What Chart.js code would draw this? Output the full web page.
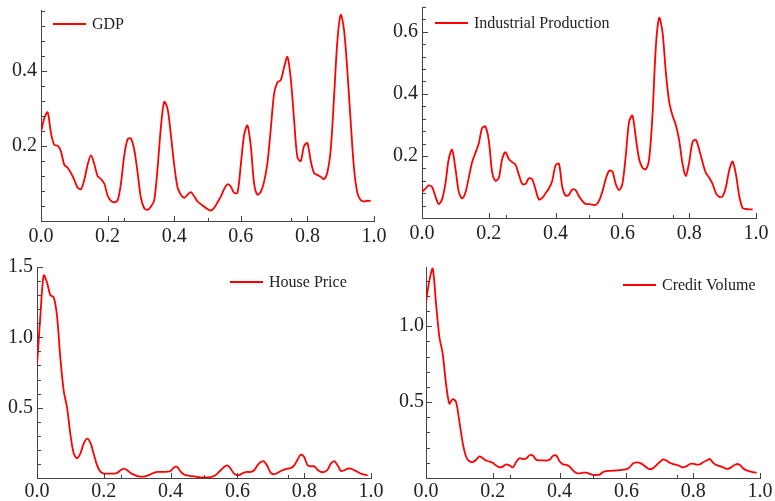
<!DOCTYPE html>
<html>
<head>
<meta charset="utf-8">
<script src="https://cdn.jsdelivr.net/npm/chart.js@4.4.1/dist/chart.umd.min.js"></script>
<style>
  body { margin: 0; background: #fff; }
  #wrap { position: relative; width: 775px; height: 501px; overflow: hidden; }
  #wrap canvas { position: absolute; }
</style>
</head>
<body>
<div id="wrap">
  <canvas id="gdp"></canvas>
  <canvas id="ip"></canvas>
  <canvas id="hp"></canvas>
  <canvas id="cv"></canvas>
</div>
<script>
// frequency grid, 0.00 .. 0.99
const freq = Array.from({ length: 100 }, (_, i) => i / 100);

const xTicks = [0, 0.2, 0.4, 0.6, 0.8, 1.0];
const xMinor = [0.25, 0.5, 0.75];

const gdpTicks = [0.2, 0.4];
const ipTicks = [0.2, 0.4, 0.6];
const hpTicks = [0.5, 1.0, 1.5];
const cvTicks = [0.5, 1.0];

const gdp = [
  0.238, 0.274, 0.29, 0.234, 0.203, 0.201, 0.185, 0.15, 0.142, 0.128,
  0.11, 0.089, 0.085, 0.11, 0.15, 0.175, 0.152, 0.12, 0.112, 0.1,
  0.068, 0.054, 0.05, 0.055, 0.1, 0.175, 0.218, 0.22, 0.19, 0.13,
  0.062, 0.034, 0.03, 0.038, 0.055, 0.14, 0.25, 0.318, 0.3, 0.23,
  0.15, 0.09, 0.07, 0.062, 0.07, 0.077, 0.066, 0.052, 0.045, 0.038,
  0.032, 0.028, 0.035, 0.05, 0.065, 0.085, 0.098, 0.092, 0.075, 0.075,
  0.15, 0.23, 0.255, 0.2, 0.1, 0.07, 0.078, 0.105, 0.155, 0.245,
  0.34, 0.37, 0.376, 0.41, 0.438, 0.38, 0.27, 0.17, 0.16, 0.2,
  0.208, 0.16, 0.128, 0.123, 0.118, 0.112, 0.13, 0.19, 0.33, 0.48,
  0.55, 0.51, 0.4, 0.265, 0.14, 0.075, 0.056, 0.052, 0.054, 0.053
];

const industrial = [
  0.085, 0.094, 0.105, 0.1, 0.07, 0.045, 0.06, 0.11, 0.19, 0.22,
  0.16, 0.085, 0.063, 0.082, 0.13, 0.18, 0.21, 0.24, 0.29, 0.295,
  0.25, 0.148, 0.12, 0.13, 0.19, 0.212, 0.19, 0.18, 0.172, 0.14,
  0.11, 0.11, 0.128, 0.125, 0.092, 0.06, 0.065, 0.08, 0.095, 0.12,
  0.17, 0.175, 0.1, 0.072, 0.075, 0.092, 0.09, 0.07, 0.055, 0.045,
  0.045, 0.043, 0.042, 0.055, 0.085, 0.125, 0.152, 0.15, 0.11, 0.09,
  0.11, 0.2, 0.31, 0.33, 0.26, 0.19, 0.162, 0.157, 0.19, 0.33,
  0.55, 0.645, 0.6, 0.47, 0.375, 0.33, 0.3, 0.25, 0.175, 0.135,
  0.18, 0.245, 0.252, 0.22, 0.18, 0.145, 0.13, 0.11, 0.08, 0.068,
  0.07, 0.1, 0.155, 0.182, 0.14, 0.07, 0.032, 0.029, 0.028, 0.028
];

const housePrice = [
  0.8, 1.15, 1.44, 1.39, 1.3, 1.285, 1.15, 0.85, 0.62, 0.5,
  0.31, 0.175, 0.14, 0.175, 0.246, 0.28, 0.25, 0.17, 0.09, 0.045,
  0.031, 0.031, 0.031, 0.031, 0.036, 0.055, 0.066, 0.055, 0.036, 0.024,
  0.014, 0.01, 0.01, 0.017, 0.026, 0.036, 0.043, 0.043, 0.043, 0.045,
  0.05, 0.075, 0.078, 0.045, 0.025, 0.018, 0.014, 0.012, 0.007, 0.005,
  0.005, 0.005, 0.007, 0.014, 0.031, 0.055, 0.078, 0.09, 0.066, 0.031,
  0.019, 0.026, 0.038, 0.043, 0.043, 0.055, 0.09, 0.114, 0.118, 0.083,
  0.036, 0.026, 0.036, 0.05, 0.059, 0.066, 0.071, 0.09, 0.13, 0.166,
  0.15, 0.09, 0.083, 0.083, 0.059, 0.043, 0.043, 0.059, 0.102, 0.12,
  0.09, 0.05, 0.055, 0.066, 0.066, 0.055, 0.043, 0.031, 0.024, 0.019
];

const creditVolume = [
  1.16, 1.3, 1.38, 1.15, 0.93, 0.82, 0.62, 0.49, 0.52, 0.5,
  0.37, 0.23, 0.14, 0.11, 0.105, 0.12, 0.143, 0.13, 0.115, 0.108,
  0.1, 0.082, 0.07, 0.075, 0.09, 0.083, 0.07, 0.105, 0.13, 0.125,
  0.128, 0.15, 0.148, 0.12, 0.116, 0.116, 0.115, 0.12, 0.145, 0.148,
  0.11, 0.09, 0.087, 0.075, 0.05, 0.033, 0.03, 0.035, 0.035, 0.027,
  0.02, 0.02, 0.022, 0.04, 0.046, 0.047, 0.048, 0.05, 0.052, 0.055,
  0.058, 0.072, 0.095, 0.103, 0.1, 0.088, 0.07, 0.058, 0.065, 0.085,
  0.105, 0.122, 0.115, 0.1, 0.092, 0.086, 0.078, 0.07, 0.078, 0.092,
  0.095, 0.088, 0.09, 0.104, 0.115, 0.125, 0.1, 0.085, 0.078, 0.07,
  0.06, 0.065, 0.08, 0.092, 0.085, 0.063, 0.05, 0.044, 0.038, 0.035
];

const AXIS = '#444';
const TEXT = '#222';
const SERIF = "'Liberation Serif', 'Times New Roman', serif";
// room around the plot area inside each canvas
const M = { left: 50, top: 20, right: 25, bottom: 32 };

// inward tick marks + the small line/label key in the corner
const frame = {
  id: 'frame',
  afterDraw(chart, args, o) {
    const { ctx, chartArea: a, scales: { x, y } } = chart;
    ctx.save();
    ctx.strokeStyle = AXIS;
    ctx.lineWidth = 1;
    ctx.beginPath();
    const vx = (v, len) => {
      const px = Math.round(x.getPixelForValue(v)) + 0.5;
      ctx.moveTo(px, a.bottom); ctx.lineTo(px, a.bottom - len);
    };
    const hy = (v, len) => {
      const py = Math.round(y.getPixelForValue(v)) + 0.5;
      ctx.moveTo(a.left, py); ctx.lineTo(a.left + len, py);
    };
    xTicks.forEach(v => vx(v, 5));
    xMinor.forEach(v => vx(v, 3));
    for (let i = 1; i * o.minorStep <= y.max + 1e-9; i++) {
      const v = +(i * o.minorStep).toFixed(3);
      hy(v, o.major.some(m => Math.abs(m - v) < 1e-6) ? 6 : 4);
    }
    ctx.stroke();

    // key
    const [kx, ky] = o.key;
    ctx.strokeStyle = '#ff0000';
    ctx.lineWidth = 1.8;
    ctx.beginPath();
    ctx.moveTo(kx, ky); ctx.lineTo(kx + 33, ky);
    ctx.stroke();
    ctx.fillStyle = TEXT;
    ctx.font = '16px ' + SERIF;
    ctx.textBaseline = 'middle';
    ctx.fillText(o.label, kx + 39, ky + 1);
    ctx.restore();
  }
};

const panels = [
  { id: 'gdp', label: 'GDP', values: gdp, yMax: 0.563, yTicks: gdpTicks, minorStep: 0.04,
    area: [41, 10, 374, 221], key: [53, 24], xPad: 4, yPad: 4 },
  { id: 'ip', label: 'Industrial Production', values: industrial, yMax: 0.68, yTicks: ipTicks, minorStep: 0.04,
    area: [422, 7, 756, 218], key: [435, 23], xPad: 4, yPad: 4 },
  { id: 'hp', label: 'House Price', values: housePrice, yMax: 1.5, yTicks: hpTicks, minorStep: 0.1,
    area: [37, 267, 371, 478], key: [230, 282], xPad: 2, yPad: 4 },
  { id: 'cv', label: 'Credit Volume', values: creditVolume, yMax: 1.39, yTicks: cvTicks, minorStep: 0.1,
    area: [426, 267, 760, 478], key: [623, 285], xPad: 2, yPad: 2 }
];

panels.forEach(p => {
  const [L, T, R, B] = p.area;
  const cv = document.getElementById(p.id);
  const left = L - M.left, top = T - M.top;
  cv.width = R - L + M.left + M.right;
  cv.height = B - T + M.top + M.bottom;
  cv.style.left = left + 'px';
  cv.style.top = top + 'px';

  new Chart(cv, {
    type: 'line',
    data: {
      datasets: [{
        label: p.label,
        data: freq.map((f, i) => ({ x: f, y: p.values[i] })),
        borderColor: '#ff0000',
        borderWidth: 1.8,
        pointRadius: 0,
        tension: 0.3,
        fill: false
      }]
    },
    plugins: [frame],
    options: {
      responsive: false,
      devicePixelRatio: 1,
      animation: false,
      events: [],
      layout: { padding: { left: 0, top: M.top, right: M.right, bottom: 0 } },
      plugins: {
        legend: { display: false },
        tooltip: { enabled: false },
        frame: { label: p.label, key: [p.key[0] - left, p.key[1] - top], minorStep: p.minorStep, major: p.yTicks }
      },
      scales: {
        x: {
          type: 'linear',
          min: 0,
          max: 1,
          afterBuildTicks: s => { s.ticks = xTicks.map(v => ({ value: v })); },
          afterFit: s => { s.height = M.bottom; },
          grid: { display: false, drawTicks: false },
          border: { display: true, color: AXIS, width: 1 },
          ticks: {
            padding: p.xPad,
            maxRotation: 0,
            color: TEXT,
            font: { family: SERIF, size: 20 },
            callback: v => v.toFixed(1)
          }
        },
        y: {
          type: 'linear',
          min: 0,
          max: p.yMax,
          afterBuildTicks: s => { s.ticks = p.yTicks.map(v => ({ value: v })); },
          afterFit: s => { s.width = M.left; },
          grid: { display: false, drawTicks: false },
          border: { display: true, color: AXIS, width: 1 },
          ticks: {
            padding: p.yPad,
            color: TEXT,
            font: { family: SERIF, size: 20 },
            callback: v => v.toFixed(1)
          }
        }
      }
    }
  });
});
</script>
</body>
</html>
